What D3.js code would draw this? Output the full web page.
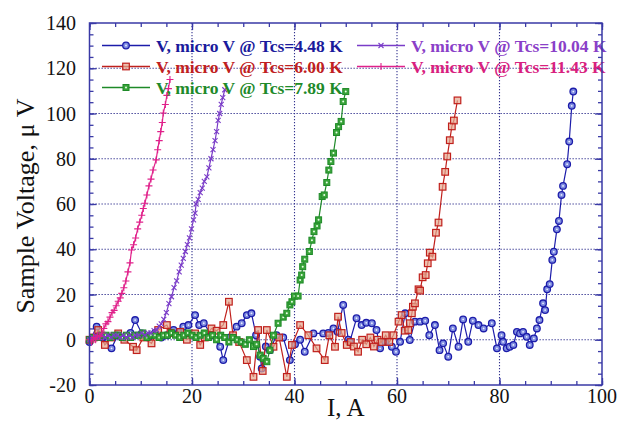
<!DOCTYPE html>
<html>
<head>
<meta charset="utf-8">
<script src="https://cdn.jsdelivr.net/npm/d3@7"></script>
<style>
  body { margin: 0; background: #fff; }
  svg { display: block; }
  text { font-family: "Liberation Serif", "Times New Roman", serif; }
</style>
</head>
<body>
<svg id="chart" width="618" height="423"></svg>
<script>
// current (A) vs sample voltage (µV), one array per critical-surface temperature
let tcs448 = [[0,-1],[1.4,5.8],[2.5,1],[4.3,-3.8],[5.5,2],[6.8,1],[8.0,3],[8.9,8.7],[10.2,2.8],[11.5,1],[12.8,3],[14.0,1],[15.2,2],[16.4,4.3],[17.4,3],[18.3,5.8],[19.3,6.5],[20.6,10.9],[21.4,6.5],[22.3,7.3],[23.8,2],[25.5,-3.1],[26.1,-9],[27.4,1],[28.7,5.8],[29.7,7.3],[30.7,10.9],[31.6,11.7],[32.5,2],[33.3,-7.5],[33.6,-12.7],[34.4,-3],[35.2,-4.6],[36.5,2],[37.8,1],[39.1,-9],[40.1,-2],[41.1,0],[42.0,-5.3],[43.7,2.8],[45.6,2.8],[46.6,3],[47.6,5],[48.4,3.5],[49.5,15.4],[50.5,0],[50.8,-0.9],[52.1,9.5],[53.1,6.5],[54.0,7.5],[55.1,7.3],[56.0,4.3],[56.7,-3.8],[57.7,-0.9],[59.0,-3.1],[59.8,-5.3],[60.6,-0.9],[61.6,11.7],[62.5,-0.1],[63.5,8],[64.5,8],[65.5,8.4],[66.3,2],[67.4,6.5],[68.3,-4.6],[69.0,-1.6],[70.0,-7.5],[70.9,5],[72.0,-3.1],[72.9,9],[73.9,-0.9],[74.8,8.4],[75.9,6.5],[76.9,5],[78.5,7.3],[79.5,-3.8],[80.4,2],[80.7,-0.9],[81.4,-3.8],[82.0,-3.1],[82.7,-2.3],[83.4,3.5],[84.0,2.8],[84.6,3.5],[85.3,1.3],[85.9,-2.3],[86.7,0.6],[87.3,5],[87.8,8.7],[88.5,16.1],[88.9,13.1],[89.3,22.3],[89.8,24.6],[90.3,35.3],[90.6,38.9],[91.2,48.8],[91.6,52.5],[92.1,64],[92.4,68],[93.2,77.6],[93.6,87.6],[94.1,103.4],[94.4,109.7]];

let tcs600 = [[0,0],[0.8,1],[1.7,4.3],[3.0,-2.3],[4.2,1],[5.6,2.8],[6.8,0],[8.5,-3.1],[9.2,-4.6],[10.5,1],[12.1,-1.6],[13.4,4.3],[15.1,6.5],[15.8,3],[17.7,3.5],[19.0,0],[20.6,2.8],[21.6,-2.3],[22.5,1],[23.8,5],[24.8,4],[26.1,6.5],[27.2,16.8],[28.0,2],[29.2,-1],[30.7,-9],[32.0,-16.4],[32.9,4.3],[33.8,-13.8],[34.6,4.3],[35.9,-3.1],[37.0,1],[38.5,-16.4],[39.5,-2.3],[41.1,6.5],[42.7,2],[44.3,-3.8],[45.9,-9],[46.8,2],[47.9,-3.1],[48.5,10.2],[49.2,3],[50.2,-2.3],[51.0,-1],[51.6,-3],[52.4,-5.3],[53.2,0],[54.0,-2],[54.8,1],[55.5,-3],[56.2,0],[57.0,-1],[57.8,2],[58.5,-1],[59.3,2],[60.3,8],[60.9,10.9],[61.5,4],[62.2,4.3],[62.5,7.3],[62.9,11.7],[63.1,14.6],[63.5,16.1],[64.2,22.3],[64.5,21.7],[65.0,27.6],[65.6,28.6],[66.0,33.8],[66.4,38.5],[66.9,36.7],[67.6,47.3],[68.1,51.8],[68.9,67.6],[69.4,74.2],[69.8,81],[70.3,88.2],[70.7,94.3],[71.1,96.9],[71.8,105.8]];

let tcs789 = [[0,0],[0.8,1],[1.6,1],[2.4,2],[3.2,2],[4.0,1],[4.8,2],[5.6,2],[6.4,1],[7.2,2],[8.0,1],[8.8,2],[9.6,2],[10.4,3],[11.2,1],[12.0,2],[12.8,2],[13.6,1],[14.4,2],[15.2,2],[16.0,3],[16.8,2],[17.6,1],[18.4,2],[19.2,3],[20.0,2],[20.8,1],[21.6,2],[22.4,3],[23.2,1],[24.0,2],[24.8,0],[25.6,2],[26.4,1],[27.2,-1],[28.0,1],[28.8,0],[29.6,-1],[30.4,-2],[31.2,0],[32.0,-3],[32.6,-2],[33.3,-6.8],[33.9,-8.2],[34.6,-9.7],[35.2,-4.6],[35.9,2],[36.8,7.3],[37.8,10],[38.5,11.7],[39.1,15.4],[39.5,16.8],[40.0,19.3],[40.7,19.3],[41.1,26.4],[41.4,28.6],[41.6,32.3],[42.0,35.6],[42.9,39],[43.4,44],[43.8,47.8],[44.4,50.3],[44.7,53],[45.4,63.3],[45.8,64],[46.3,69.5],[46.7,75],[47.1,78.8],[47.6,82.5],[48.2,91.6],[48.6,94.2],[49.1,96.5],[49.5,105.3],[50.0,109.7]];

let tcs1004 = [[0,0],[0.6,1],[1.2,2],[1.8,1],[2.4,2],[3.0,1],[3.6,2],[4.2,1],[4.8,2],[5.4,2],[6.0,1],[6.6,2],[7.2,1],[7.8,2],[8.4,1],[9.0,2],[9.6,2],[10.2,3],[10.8,2],[11.4,3],[12.0,3],[12.6,4],[13.1,4.3],[13.6,6],[14.0,7],[14.5,9],[15.0,12],[15.5,16],[16.0,19],[16.5,23],[17.0,26],[17.5,30],[17.9,33],[18.3,36],[18.7,39],[19.1,42],[19.5,45],[19.9,49],[20.3,53],[20.6,56],[20.8,60],[21.2,62],[21.6,65],[22.0,67],[22.4,70],[22.9,72],[23.3,76],[23.7,80],[24.1,84],[24.5,88],[24.8,92],[25.1,97],[25.4,100],[25.7,104],[26.0,107],[26.4,110.5]];

let tcs1143 = [[0,0],[0.4,-1],[0.8,1],[1.2,0],[1.6,2],[2.0,1.3],[2.4,3],[2.8,5],[3.2,7],[3.6,8],[4.0,10],[4.4,12],[4.8,13],[5.2,15],[5.6,17],[6.0,18.5],[6.3,20.5],[6.7,23],[7.1,26],[7.5,30],[7.9,34],[8.2,39.7],[8.6,42],[9.0,45],[9.4,49],[9.8,52],[10.2,55],[10.5,58],[10.8,60.3],[11.2,64],[11.6,68],[12.0,71],[12.4,75],[13.0,79.5],[13.3,84],[13.6,88],[13.9,92],[14.2,96],[14.4,100.2],[14.8,104],[15.1,108],[15.4,111],[15.7,115]];

let legendLabels = ['V, micro V @ Tcs=4.48 K', 'V, micro V @ Tcs=6.00 K', 'V, micro V @ Tcs=7.89 K',
                    'V, micro V @ Tcs=10.04 K', 'V, micro V @ Tcs=11.43 K'];
let xTicks = [0, 20, 40, 60, 80, 100];
let yTicks = [-20, 0, 20, 40, 60, 80, 100, 120, 140];

let series = [
    {data: tcs448,  label: legendLabels[0], color: '#1c1caa', text: '#1a1a9c', mark: 'circle'},
    {data: tcs600,  label: legendLabels[1], color: '#c0201c', text: '#c02020', mark: 'square'},
    {data: tcs789,  label: legendLabels[2], color: '#1e8a28', text: '#1e8a2a', mark: 'gsquare'},
    {data: tcs1004, label: legendLabels[3], color: '#7a3cc8', text: '#8a40c8', mark: 'x'},
    {data: tcs1143, label: legendLabels[4], color: '#e0208a', text: '#d8207e', mark: 'plus'}
];

let svg = d3.select('#chart');
let plotL = 89.5, plotR = 602, plotT = 23, plotB = 385;
let x = d3.scaleLinear().domain([0, 100]).range([plotL, plotR]);
let y = d3.scaleLinear().domain([-20, 140]).range([plotB, plotT]);
let frameColor = '#3a3aa6';

svg.append('rect').attr('width', 618).attr('height', 423).attr('fill', '#fff');

// dotted grid at major ticks
let grid = svg.append('g').attr('stroke', '#33338f').attr('stroke-width', 1.1).attr('stroke-dasharray', '1.3,1.7');
grid.selectAll('.gx').data(xTicks.slice(1, -1)).join('line')
    .attr('x1', d => x(d)).attr('x2', d => x(d)).attr('y1', plotT).attr('y2', plotB);
grid.selectAll('.gy').data(yTicks.slice(1, -1)).join('line')
    .attr('y1', d => y(d)).attr('y2', d => y(d)).attr('x1', plotL).attr('x2', plotR);

// inward ticks on all four sides
function addAxis(axis, transform) {
    let g = svg.append('g').attr('transform', transform).call(axis);
    g.select('.domain').remove();
    g.selectAll('line').attr('stroke', frameColor).attr('stroke-width', 1.3);
    return g;
}
let xMinor = d3.range(0, 100.1, 5), yMinor = d3.range(-20, 140.1, 5);
addAxis(d3.axisBottom(x).tickValues(xMinor).tickSize(-4).tickFormat(''), `translate(0,${plotB})`);
addAxis(d3.axisBottom(x).tickValues(xTicks).tickSize(-7).tickFormat(''), `translate(0,${plotB})`);
addAxis(d3.axisTop(x).tickValues(xMinor).tickSize(-4).tickFormat(''), `translate(0,${plotT})`);
addAxis(d3.axisTop(x).tickValues(xTicks).tickSize(-7).tickFormat(''), `translate(0,${plotT})`);
addAxis(d3.axisLeft(y).tickValues(yMinor).tickSize(-4).tickFormat(''), `translate(${plotL},0)`);
addAxis(d3.axisLeft(y).tickValues(yTicks).tickSize(-7).tickFormat(''), `translate(${plotL},0)`);
addAxis(d3.axisRight(y).tickValues(yMinor).tickSize(-4).tickFormat(''), `translate(${plotR},0)`);
addAxis(d3.axisRight(y).tickValues(yTicks).tickSize(-7).tickFormat(''), `translate(${plotR},0)`);

// tick labels
svg.append('g').selectAll('text').data(xTicks).join('text')
    .attr('x', d => x(d)).attr('y', 403)
    .attr('text-anchor', 'middle').attr('font-size', 20).attr('fill', '#111')
    .text(d => d);
svg.append('g').selectAll('text').data(yTicks).join('text')
    .attr('x', 76).attr('y', d => y(d) + 7)
    .attr('text-anchor', 'end').attr('font-size', 20).attr('fill', '#111')
    .text(d => d);

// axis titles
svg.append('text').attr('x', (plotL + plotR) / 2).attr('y', 416)
    .attr('text-anchor', 'middle').attr('font-size', 25).attr('fill', '#111').text('I, A');
svg.append('text').attr('transform', `translate(34,${(plotT + plotB) / 2 + 2}) rotate(-90)`)
    .attr('text-anchor', 'middle').attr('font-size', 26).attr('fill', '#111').text('Sample Voltage, μ V');

// markers
function drawMark(g, s, px, py) {
    if (s.mark === 'circle') {
        g.append('circle').attr('cx', px).attr('cy', py).attr('r', 3.3)
            .attr('fill', '#7e8ce0').attr('stroke', s.color).attr('stroke-width', 1.3);
        g.append('circle').attr('cx', px).attr('cy', py).attr('r', 0.9).attr('fill', '#eef');
    } else if (s.mark === 'square') {
        g.append('rect').attr('x', px - 3.3).attr('y', py - 3.3).attr('width', 6.6).attr('height', 6.6)
            .attr('fill', '#e6a890').attr('fill-opacity', 0.7).attr('stroke', s.color).attr('stroke-width', 1.2);
    } else if (s.mark === 'gsquare') {
        g.append('rect').attr('x', px - 3).attr('y', py - 3).attr('width', 6).attr('height', 6)
            .attr('fill', '#3aa43a').attr('stroke', s.color).attr('stroke-width', 1);
        g.append('circle').attr('cx', px).attr('cy', py).attr('r', 1).attr('fill', '#e8ffe8');
    } else if (s.mark === 'x') {
        g.append('path').attr('d', `M${px - 2.5},${py - 2.5}L${px + 2.5},${py + 2.5}M${px - 2.5},${py + 2.5}L${px + 2.5},${py - 2.5}`)
            .attr('stroke', s.color).attr('stroke-width', 1.1);
    } else {
        g.append('path').attr('d', `M${px - 3.5},${py}H${px + 3.5}M${px},${py - 3.5}V${py + 3.5}`)
            .attr('stroke', s.color).attr('stroke-width', 1.1);
    }
}

let line = d3.line().x(d => x(d[0])).y(d => y(d[1]));
for (let s of series) {
    let g = svg.append('g');
    g.append('path').datum(s.data).attr('d', line)
        .attr('fill', 'none').attr('stroke', s.color).attr('stroke-width', 1.2);
    for (let d of s.data) drawMark(g, s, x(d[0]), y(d[1]));
}

// legend, two columns, no box
let legendPos = [[102, 45.5], [102, 66.5], [102, 87.5], [357, 45.5], [357, 66.5]];
series.forEach((s, i) => {
    let [lx, ly] = legendPos[i];
    let g = svg.append('g');
    g.append('line').attr('x1', lx).attr('x2', lx + 48).attr('y1', ly).attr('y2', ly)
        .attr('stroke', s.color).attr('stroke-width', 1.3);
    drawMark(g, s, lx + 24, ly);
    g.append('text').attr('x', lx + 54).attr('y', ly + 6)
        .attr('font-size', 17.5).attr('font-weight', 'bold').attr('fill', s.text)
        .text(s.label);
});

// frame on top
svg.append('rect').attr('x', plotL).attr('y', plotT).attr('width', plotR - plotL).attr('height', plotB - plotT)
    .attr('fill', 'none').attr('stroke', frameColor).attr('stroke-width', 1.5);
</script>
</body>
</html>
